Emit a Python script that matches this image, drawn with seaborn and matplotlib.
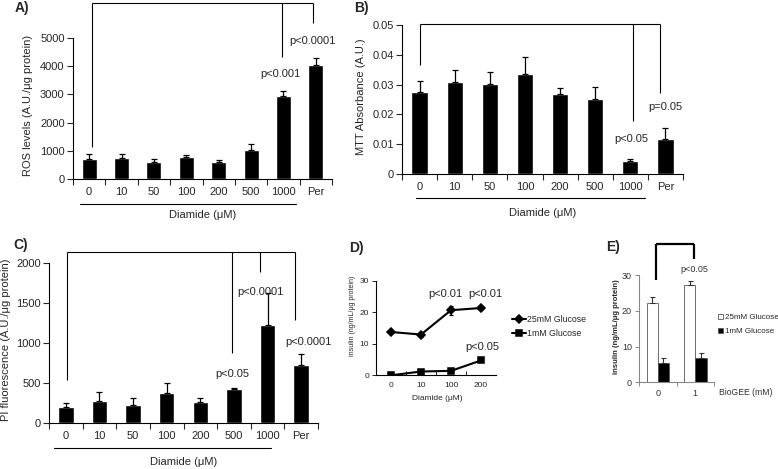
import matplotlib
matplotlib.use("Agg")
import matplotlib.pyplot as plt
import seaborn as sns
import pandas as pd

# ---- data ----
doses = ["0", "10", "50", "100", "200", "500", "1000", "Per"]

ros_mean = [700, 735, 620, 770, 595, 1015, 2950, 4060]
ros_err = [175, 140, 105, 85, 95, 235, 185, 230]

mtt_mean = [0.0276, 0.0308, 0.0301, 0.0335, 0.0268, 0.0252, 0.0043, 0.0117]
mtt_err = [0.0035, 0.0041, 0.0040, 0.0058, 0.0022, 0.0039, 0.0009, 0.0039]

pi_mean = [200, 275, 225, 380, 258, 421, 1225, 729]
pi_err = [54, 117, 92, 125, 59, 17, 395, 138]

ins_doses = ["0", "10", "100", "200"]
ins_high = [13.7, 12.9, 20.6, 21.3]
ins_high_err = [0.4, 0.9, 1.4, 0.7]
ins_low = [0.0, 1.2, 1.4, 4.7]
ins_low_err = [0.2, 0.3, 0.3, 0.4]

gee_doses = ["0", "1"]
gee_high = [22.2, 27.2]
gee_high_err = [1.6, 1.3]
gee_low = [5.3, 6.8]
gee_low_err = [1.6, 1.3]

sns.set_style("ticks")
plt.rcParams["font.family"] = ["Liberation Sans", "DejaVu Sans"]

W, H = 778, 469
fig = plt.figure(figsize=(W / 100, H / 100), dpi=100)


def add_ax(l, t, r, b):
    return fig.add_axes([l / W, 1 - b / H, (r - l) / W, (b - t) / H])


def style_axes(ax, color="black"):
    sns.despine(ax=ax)
    for s in ["left", "bottom"]:
        ax.spines[s].set_linewidth(0.8)
        ax.spines[s].set_color(color)


def bar_panel(ax, means, errs, ymax, yticks, yticklabels, ylabel, ylabel_x):
    df = pd.DataFrame({"dose": doses, "val": means})
    sns.barplot(data=df, x="dose", y="val", color="black", saturation=1,
                width=0.46, errorbar=None, ax=ax)
    ax.errorbar(range(len(doses)), means, yerr=[[0] * len(errs), errs],
                fmt="none", ecolor="black", elinewidth=0.9, capsize=2, capthick=0.9)
    ax.set_xlim(-0.5, 7.5)
    ax.set_ylim(0, ymax)
    ax.set_yticks(yticks)
    ax.set_yticklabels(yticklabels)
    ax.set_xticks([i - 0.5 for i in range(9)], minor=True)
    ax.tick_params(axis="x", which="major", length=0, pad=6, labelsize=8)
    ax.tick_params(axis="x", which="minor", length=4, width=0.8, direction="out")
    ax.tick_params(axis="y", length=4, width=0.8, labelsize=8, pad=2)
    ax.set_xlabel("")
    ax.set_ylabel(ylabel, fontsize=8)
    ax.yaxis.set_label_coords(ylabel_x, 0.52)
    style_axes(ax)


def diamide_underline(ax, x0, x1, y_line, y_text):
    tr = ax.get_xaxis_transform()
    ax.plot([x0, x1], [y_line, y_line], color="black", lw=0.8,
            transform=tr, clip_on=False)
    ax.text(3.5, y_text, "Diamide (μM)", transform=tr, ha="center",
            va="center", fontsize=8)


def bracket(ax, xs, drops, top, lw=0.8):
    ax.plot([xs[0], xs[-1]], [top, top], color="black", lw=lw, clip_on=False,
            solid_capstyle="butt")
    for x, y in zip(xs, drops):
        ax.plot([x, x], [top, y], color="black", lw=lw, clip_on=False,
                solid_capstyle="butt")


# ---- A) ROS ----
axA = add_ax(73, 38, 332, 179)
bar_panel(axA, ros_mean, ros_err, 5000, range(0, 5001, 1000),
          [str(v) for v in range(0, 5001, 1000)],
          "ROS levels (A.U./μg protein)", -0.156)
diamide_underline(axA, -0.28, 6.38, -0.177, -0.255)
bracket(axA, [0.1, 5.95, 6.9], [1135, 4326, 5532], 6241)
axA.text(5.9, 3723, "p<0.001", ha="center", va="center", fontsize=8)
axA.text(6.9, 4894, "p<0.0001", ha="center", va="center", fontsize=8)

# ---- B) MTT ----
axB = add_ax(402, 25, 683, 174)
bar_panel(axB, mtt_mean, mtt_err, 0.05, [0, 0.01, 0.02, 0.03, 0.04, 0.05],
          ["0", "0.01", "0.02", "0.03", "0.04", "0.05"],
          "MTT Absorbance (A.U.)", -0.128)
diamide_underline(axB, -0.1, 6.42, -0.161, -0.262)
bracket(axB, [0.0, 6.08, 6.85], [0.0366, 0.0178, 0.0272], 0.0503)
axB.text(6.02, 0.0117, "p<0.05", ha="center", va="center", fontsize=8)
axB.text(6.99, 0.0225, "p=0.05", ha="center", va="center", fontsize=8)

# ---- C) PI ----
axC = add_ax(49, 263, 318, 423)
bar_panel(axC, pi_mean, pi_err, 2000, range(0, 2001, 500),
          [str(v) for v in range(0, 2001, 500)],
          "PI fluorescence (A.U./μg protein)", -0.141)
diamide_underline(axC, -0.36, 6.1, -0.156, -0.244)
bracket(axC, [0.04, 4.94, 5.78, 6.82], [537, 875, 1887, 1287], 2137)
axC.text(4.94, 612, "p<0.05", ha="center", va="center", fontsize=8)
axC.text(5.78, 1637, "p<0.0001", ha="center", va="center", fontsize=8)
axC.text(7.21, 1012, "p<0.0001", ha="center", va="center", fontsize=8)

# ---- D) insulin vs diamide ----
axD = add_ax(376, 280.5, 496, 375.3)
dfD = pd.DataFrame({
    "dose": ins_doses * 2,
    "val": ins_high + ins_low,
    "glucose": ["25mM Glucose"] * len(ins_doses) + ["1mM Glucose"] * len(ins_doses),
})
sns.pointplot(data=dfD, x="dose", y="val", hue="glucose", palette=["black", "black"],
              markers=["D", "s"], linestyles=["-", "-"], errorbar=None,
              markersize=4.5, linewidth=1.5, ax=axD)
for vals, errs in [(ins_high, ins_high_err), (ins_low, ins_low_err)]:
    axD.errorbar(range(len(ins_doses)), vals, yerr=errs, fmt="none",
                 ecolor="black", elinewidth=0.8, capsize=1.2, capthick=0.8)
axD.set_xlim(-0.5, 3.5)
axD.set_ylim(0, 30)
axD.set_yticks([0, 10, 20, 30])
axD.set_xticks([i - 0.5 for i in range(1, 4)], minor=True)
axD.tick_params(axis="x", which="major", length=0, pad=5, labelsize=6)
axD.tick_params(axis="x", which="minor", length=3, width=0.7, direction="in")
axD.tick_params(axis="y", length=3, width=0.7, labelsize=6, pad=2)
axD.set_xlabel("")
axD.set_ylabel("insulin (ng/mL/μg protein)", fontsize=5)
axD.yaxis.set_label_coords(-0.167, 0.63)
axD.text(1.53, -0.24, "Diamide (μM)", transform=axD.get_xaxis_transform(),
         ha="center", va="center", fontsize=6)
style_axes(axD)
axD.text(1.8, 25.7, "p<0.01", ha="center", va="center", fontsize=8)
axD.text(3.13, 25.7, "p<0.01", ha="center", va="center", fontsize=8)
axD.text(3.03, 9.0, "p<0.05", ha="center", va="center", fontsize=8)
sns.move_legend(axD, "center left", bbox_to_anchor=(1.13, 0.515), frameon=False,
                title=None, fontsize=6.3, handlelength=1.6, handletextpad=0.2,
                labelspacing=0.5, borderpad=0, borderaxespad=0)

# ---- E) insulin vs BioGEE ----
axE = add_ax(639, 275.3, 714, 382.2)
dfE = pd.DataFrame({
    "dose": gee_doses * 2,
    "val": gee_high + gee_low,
    "glucose": ["25mM Glucose"] * len(gee_doses) + ["1mM Glucose"] * len(gee_doses),
})
sns.barplot(data=dfE, x="dose", y="val", hue="glucose", palette=["white", "black"],
            saturation=1, edgecolor="#555555", linewidth=0.6, width=0.6,
            errorbar=None, ax=axE)
for cont, errs in zip(axE.containers, [gee_high_err, gee_low_err]):
    xs = [b.get_x() + b.get_width() / 2 for b in cont]
    ys = [b.get_height() for b in cont]
    axE.errorbar(xs, ys, yerr=[[0] * len(errs), errs], fmt="none",
                 ecolor="#333333", elinewidth=0.8, capsize=1.8, capthick=0.8)
axE.set_xlim(-0.5, 1.5)
axE.set_ylim(0, 30)
axE.set_yticks([0, 10, 20, 30])
axE.set_xticks([-0.5, 0.5, 1.5], minor=True)
axE.tick_params(axis="x", which="major", length=0, pad=5, labelsize=6.5,
                labelcolor="#333333")
axE.tick_params(axis="x", which="minor", length=3, width=0.7, color="#888888")
axE.tick_params(axis="y", length=3, width=0.7, labelsize=6.5, pad=2,
                color="#888888", labelcolor="#333333")
axE.set_xlabel("")
axE.set_ylabel("insulin (ng/mL/μg protein)", fontsize=5.5, fontweight="bold")
axE.yaxis.set_label_coords(-0.26, 0.52)
axE.text(1.07, -0.092, "BioGEE (mM)", transform=axE.transAxes, ha="left",
         va="center", fontsize=6.2, color="#333333")
style_axes(axE, color="#888888")
bracket(axE, [-0.05, 0.97], [28.6, 34.5], 38.7, lw=1.6)
axE.text(0.97, 31.7, "p<0.05", ha="center", va="center", fontsize=6.5,
         color="#333333")
sns.move_legend(axE, "center left", bbox_to_anchor=(1.05, 0.54), frameon=False,
                title=None, fontsize=5.8, handlelength=0.7, handleheight=0.7,
                handletextpad=0.2, labelspacing=0.8, borderpad=0, borderaxespad=0)

# panel letters
for lab, x, y in [("A)", 22, 8), ("B)", 361, 8), ("C)", 21, 245),
                  ("D)", 356, 248), ("E)", 613, 247)]:
    fig.text(x / W, 1 - y / H, lab, ha="center", va="center",
             fontsize=10, fontweight="bold")

fig.savefig("out.png", dpi=100)
